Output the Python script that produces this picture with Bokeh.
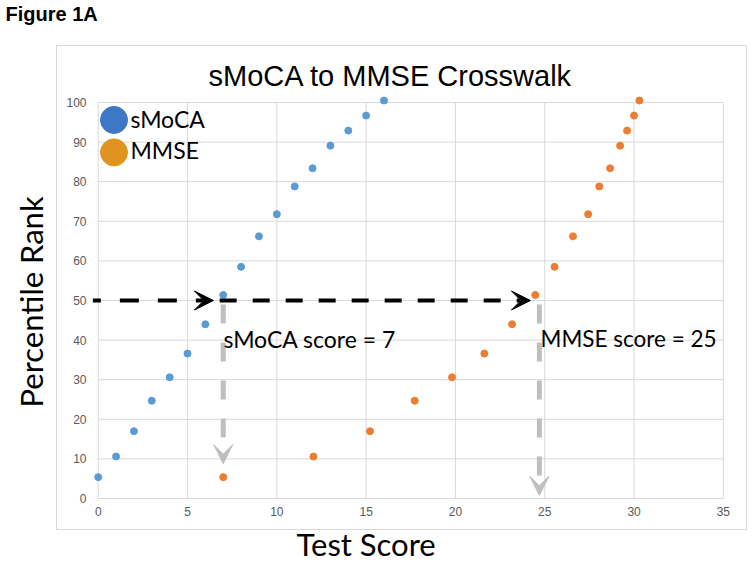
from bokeh.plotting import figure
from bokeh.models import (Arrow, VeeHead, Label, FixedTicker, Range1d, Title,
                          InlineStyleSheet)
from bokeh.embed import file_html
from bokeh.resources import INLINE

# ---- data ----
percentile = [5.4, 10.6, 17.0, 24.7, 30.6, 36.6, 44.0, 51.4, 58.5, 66.2,
              71.8, 78.8, 83.4, 89.1, 92.9, 96.7, 100.5]
smoca_score = [0, 1, 2, 3, 4, 5, 6, 7, 8, 9, 10, 11, 12, 13, 14, 15, 16]
mmse_score = [7.0, 12.05, 15.22, 17.72, 19.81, 21.62, 23.17, 24.47, 25.55,
              26.58, 27.43, 28.05, 28.66, 29.22, 29.61, 30.0, 30.3]
x_ticks = [0, 5, 10, 15, 20, 25, 30, 35]
y_ticks = [0, 10, 20, 30, 40, 50, 60, 70, 80, 90, 100]
series_names = ["sMoCA", "MMSE"]
crosswalk_pct = 50
smoca_example = 7
mmse_example = 24.7
smoca_label = "sMoCA score = 7"
mmse_label = "MMSE score = 25"

BLUE = "#5b9bd5"
ORANGE = "#ed7d31"
LEG_BLUE = "#3c78c4"
LEG_ORANGE = "#e0941f"
GRID = "#d9d9d9"
GRAY_ARROW = "#bfbfbf"
HUMANIST = "Lato"
SANS = "Liberation Sans"

p = figure(width=754, height=567, output_backend="svg", toolbar_location=None,
           x_range=Range1d(-0.6, 35.4), y_range=Range1d(-0.5, 118.94),
           min_border_left=87, min_border_right=24, min_border_top=27,
           min_border_bottom=67, title=None)
p.outline_line_color = None
p.background_fill_color = "white"
p.border_fill_color = "white"
p.xgrid.visible = False
p.ygrid.visible = False

for ax in (p.xaxis[0], p.yaxis[0]):
    ax.axis_line_color = None
    ax.major_tick_line_color = None
    ax.minor_tick_line_color = None
    ax.major_tick_out = 0
    ax.major_tick_in = 0
    ax.major_label_text_font = SANS
    ax.major_label_text_font_size = "12px"
    ax.major_label_text_color = "#595959"
p.xaxis[0].ticker = FixedTicker(ticks=x_ticks)
p.yaxis[0].ticker = FixedTicker(ticks=y_ticks)
p.xaxis[0].major_label_standoff = 6
p.yaxis[0].major_label_standoff = 1

# grid lines limited to the plot area (0..35, 0..100)
p.segment(x0=x_ticks, y0=[y_ticks[0]] * len(x_ticks), x1=x_ticks,
          y1=[y_ticks[-1]] * len(x_ticks), line_color=GRID, line_width=1)
p.segment(x0=[x_ticks[0]] * len(y_ticks), y0=y_ticks,
          x1=[x_ticks[-1]] * len(y_ticks), y1=y_ticks,
          line_color=GRID, line_width=1)

# chart-area border (drawn by CSS over the page)
p.stylesheets = [InlineStyleSheet(css=(
    ":host{position:relative;}"
    ":host::after{content:'';position:absolute;left:56px;top:45px;"
    "width:691px;height:485px;border:1.5px solid #d9d9d9;"
    "box-sizing:border-box;pointer-events:none;}"))]

# data points
p.scatter(smoca_score, percentile, size=7, color=BLUE)
p.scatter(mmse_score, percentile, size=7, color=ORANGE)

# gray dashed arrows (down)
for xv, y_end in ((smoca_example, 8.8), (mmse_example, 0.8)):
    p.add_layout(Arrow(x_start=xv, y_start=49, x_end=xv, y_end=y_end,
                       line_color=GRAY_ARROW, line_width=5, line_dash="19 19",
                       end=VeeHead(size=19, fill_color=GRAY_ARROW,
                                   line_color=GRAY_ARROW, line_width=1)))

# black dashed arrows (right)
p.add_layout(Arrow(x_start=-0.3, y_start=crosswalk_pct, x_end=6.45,
                   y_end=crosswalk_pct, line_color="black", line_width=4,
                   line_dash="19 19", line_dash_offset=11,
                   end=VeeHead(size=19, fill_color="black", line_color="black",
                               line_width=1)))
p.add_layout(Arrow(x_start=6.8, y_start=crosswalk_pct, x_end=24.2,
                   y_end=crosswalk_pct, line_color="black", line_width=4,
                   line_dash="17 16",
                   end=VeeHead(size=19, fill_color="black", line_color="black",
                               line_width=1)))

# legend (manual, large swatches)
p.scatter([0.885, 0.885], [95.6, 87.4], size=27, color=[LEG_BLUE, LEG_ORANGE])
for name, yb in zip(series_names, (118, 149)):
    p.add_layout(Label(x=130, y=yb, x_units="canvas", y_units="canvas",
                       text=name, text_font=HUMANIST, text_font_size="23px",
                       text_baseline="alphabetic", text_color="black"))

# annotation texts
p.add_layout(Label(x=223, y=338, x_units="canvas", y_units="canvas",
                   text=smoca_label, text_font=HUMANIST, text_font_size="23px",
                   text_baseline="alphabetic", text_color="black"))
p.add_layout(Label(x=540, y=338, x_units="canvas", y_units="canvas",
                   text=mmse_label, text_font=HUMANIST, text_font_size="22.5px",
                   text_baseline="alphabetic", text_color="black"))

# chart title (inside the extended frame)
p.add_layout(Label(x=208, y=75, x_units="canvas", y_units="canvas",
                   text="sMoCA to MMSE Crosswalk", text_font=SANS,
                   text_font_size="29px", text_baseline="alphabetic",
                   text_color="black"))

# figure tag
p.add_layout(Title(text="Figure 1A", align="left", offset=-82, standoff=2,
                   vertical_align="top", text_font=SANS,
                   text_font_size="20px", text_font_style="bold",
                   text_color="black"), "above")

# axis titles
p.add_layout(Title(text="Test Score", align="left", offset=209, standoff=9,
                   text_font=HUMANIST, text_font_size="31px",
                   text_font_style="normal", text_color="black"), "below")
p.add_layout(Title(text="Percentile Rank", align="left", offset=93,
                   standoff=23, vertical_align="top", text_font=HUMANIST,
                   text_font_size="31px", text_font_style="normal",
                   text_color="black"), "left")

open("out.html", "w").write(file_html(p, INLINE))
